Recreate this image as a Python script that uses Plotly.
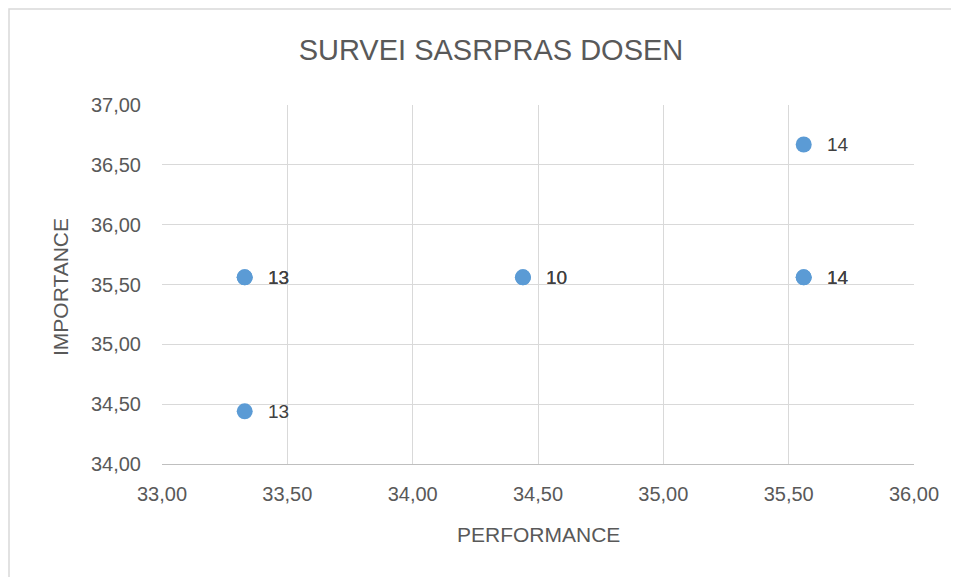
import plotly.graph_objects as go

# Data (duplicated points are overlapping observations, which make labels look bold)
performance = [33.33, 33.33, 33.33, 34.44, 34.44, 35.56, 35.56, 35.56]
importance = [35.56, 35.56, 34.44, 35.56, 35.56, 36.67, 35.56, 35.56]
point_labels = ["13", "13", "13", "10", "10", "14", "14", "14"]

x_ticks = [33.0, 33.5, 34.0, 34.5, 35.0, 35.5, 36.0]
y_ticks = [34.0, 34.5, 35.0, 35.5, 36.0, 36.5, 37.0]

def fmt(v):
    return f"{v:.2f}".replace(".", ",")

FONT = "Liberation Sans"
GREY = "#595959"
GRID = "#d9d9d9"

fig = go.Figure()
fig.add_trace(go.Scatter(
    x=performance, y=importance, mode="markers",
    marker=dict(color="#5b9bd5", size=16, line=dict(width=0)),
    hoverinfo="x+y", showlegend=False,
))

for xv, yv, lab in zip(performance, importance, point_labels):
    fig.add_annotation(x=xv, y=yv, text=lab, showarrow=False,
                       xanchor="left", yanchor="middle", xshift=21, yshift=0,
                       font=dict(family=FONT, size=19, color="#404040"))

# axis titles
fig.add_annotation(xref="paper", yref="paper", x=0.5, y=-0.195, text="PERFORMANCE",
                   showarrow=False, xanchor="center", yanchor="middle",
                   font=dict(family=FONT, size=21, color=GREY))
fig.add_annotation(xref="paper", yref="paper", x=-0.1356, y=0.493, text="IMPORTANCE",
                   showarrow=False, xanchor="center", yanchor="middle", textangle=-90,
                   font=dict(family=FONT, size=21, color=GREY))

fig.update_layout(
    width=959, height=577, autosize=False,
    margin=dict(l=154, r=53, t=97, b=121),
    paper_bgcolor="white", plot_bgcolor="white",
    title=dict(text="SURVEI SASRPRAS DOSEN", x=0.5036, xanchor="center",
               y=0.927, yanchor="middle",
               font=dict(family=FONT, size=29, color=GREY)),
    xaxis=dict(range=[33, 36], tickvals=x_ticks, ticktext=[fmt(v) for v in x_ticks],
               showgrid=True, gridcolor=GRID, gridwidth=1,
               zeroline=False, showline=True, linecolor="#bfbfbf", linewidth=1, mirror=False,
               ticks="", ticklabelstandoff=12,
               tickfont=dict(family=FONT, size=20, color=GREY)),
    yaxis=dict(range=[34, 37], tickvals=y_ticks, ticktext=[fmt(v) for v in y_ticks],
               showgrid=True, gridcolor=GRID, gridwidth=1,
               zeroline=False, showline=False, ticks="", ticklabelstandoff=20,
               tickfont=dict(family=FONT, size=20, color=GREY)),
)

# outer chart border (as in the source image, cropped on the bottom)
fig.add_shape(type="rect", xref="paper", yref="paper",
              x0=(1 - 154) / 752, x1=(944 - 154) / 752,
              y0=(456 - 600) / 359, y1=(456 - 1) / 359,
              line=dict(color=GRID, width=1.5), fillcolor="rgba(0,0,0,0)", layer="below")

fig.write_html("out.html")
